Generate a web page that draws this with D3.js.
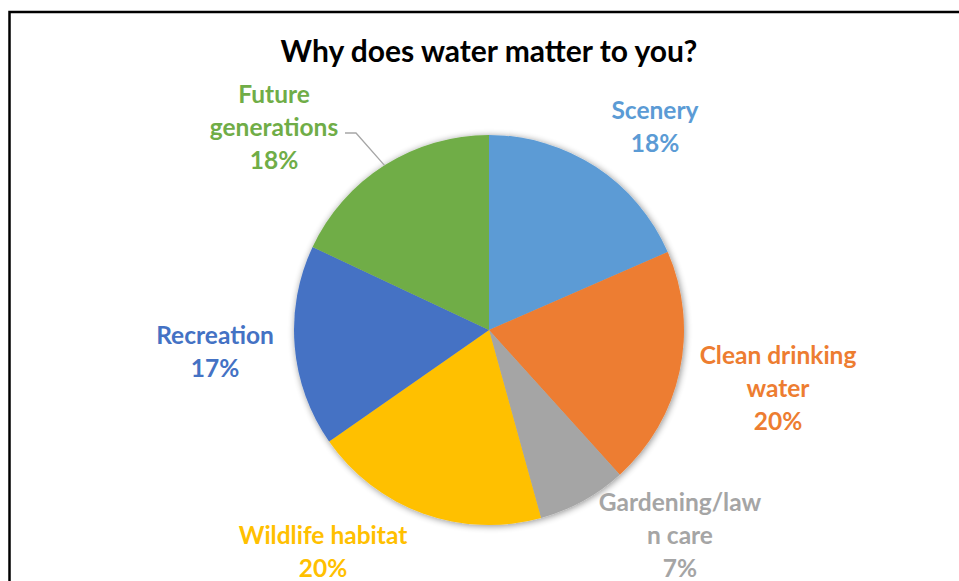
<!DOCTYPE html>
<html><head><meta charset="utf-8">
<script src="https://cdn.jsdelivr.net/npm/d3@7"></script>
<style>html,body{margin:0;padding:0;background:#fff;overflow:hidden}</style>
</head><body>
<svg id="chart" width="959" height="581"></svg>
<script>
const categories = ["Scenery", "Clean drinking water", "Gardening/lawn care", "Wildlife habitat", "Recreation", "Future generations"];
const values = [18.45, 19.85, 7.4, 19.6, 16.7, 18.0];
const labelLines = [["Scenery"], ["Clean drinking", "water"], ["Gardening/law", "n care"], ["Wildlife habitat"], ["Recreation"], ["Future", "generations"]];
const colors = ["#5B9BD5", "#ED7D31", "#A5A5A5", "#FFC000", "#4472C4", "#70AD47"];
const title = "Why does water matter to you?";

// layout (label block centres relative to pie centre)
const labelPos = [[166, -203.5], [289, 58], [191, 205], [-166, 221.5], [-274, 21.5], [-215, -203]];

const W = 959, H = 581, cx = 489, cy = 330, R = 195;
const svg = d3.select("#chart");
const defs = svg.append("defs");
const f = defs.append("filter").attr("id", "sh").attr("x", "-10%").attr("y", "-10%").attr("width", "120%").attr("height", "120%");
f.append("feGaussianBlur").attr("in", "SourceAlpha").attr("stdDeviation", 3.5).attr("result", "b");
f.append("feOffset").attr("in", "b").attr("dx", 0.5).attr("dy", 0.5).attr("result", "o");
f.append("feComponentTransfer").attr("in", "o").attr("result", "o2").append("feFuncA").attr("type", "linear").attr("slope", 0.45);
const m = f.append("feMerge");
m.append("feMergeNode").attr("in", "o2");
m.append("feMergeNode").attr("in", "SourceGraphic");

svg.append("rect").attr("x", 9.5).attr("y", 12).attr("width", 1000).attr("height", 1000)
  .attr("fill", "none").attr("stroke", "#000").attr("stroke-width", 2.5);

svg.append("text").attr("x", 489).attr("y", 62).attr("text-anchor", "middle")
  .attr("font-family", "Lato, 'Open Sans', sans-serif").attr("font-weight", 700)
  .attr("font-size", 30).attr("fill", "#000").text(title);

const data = categories.map((c, i) => ({ c, v: values[i], i }));
const pie = d3.pie().value(d => d.v).sort(null);
const arcs = pie(data);
const arc = d3.arc().innerRadius(0).outerRadius(R);

const g = svg.append("g").attr("transform", `translate(${cx},${cy})`);
g.append("g").attr("filter", "url(#sh)").selectAll("path").data(arcs).join("path")
  .attr("d", arc).attr("fill", d => colors[d.data.i]);

// leader line for Future generations
const fut = arcs[5];
const edge = d3.arc().innerRadius(R).outerRadius(R).centroid(fut);
const lp = labelPos[5];
g.append("polyline")
  .attr("points", [[lp[0] + 71, lp[1] + 6], [lp[0] + 82, lp[1] + 6], edge].map(p => p.join(",")).join(" "))
  .attr("fill", "none").attr("stroke", "#A6A6A6").attr("stroke-width", 1.3);

const lh = 33;
arcs.forEach((a, i) => {
  const lines = labelLines[i].concat([Math.round(a.data.v) + "%"]);
  const t = g.append("text").attr("text-anchor", "middle")
    .attr("font-family", "Lato, 'Open Sans', sans-serif").attr("font-weight", 700)
    .attr("font-size", 24.5).attr("fill", colors[i]);
  const y0 = labelPos[i][1] - (lines.length - 1) * lh / 2;
  lines.forEach((ln, k) => {
    t.append("tspan").attr("x", labelPos[i][0]).attr("y", y0 + k * lh).attr("dy", "0.35em").text(ln);
  });
});
</script>
</body></html>
